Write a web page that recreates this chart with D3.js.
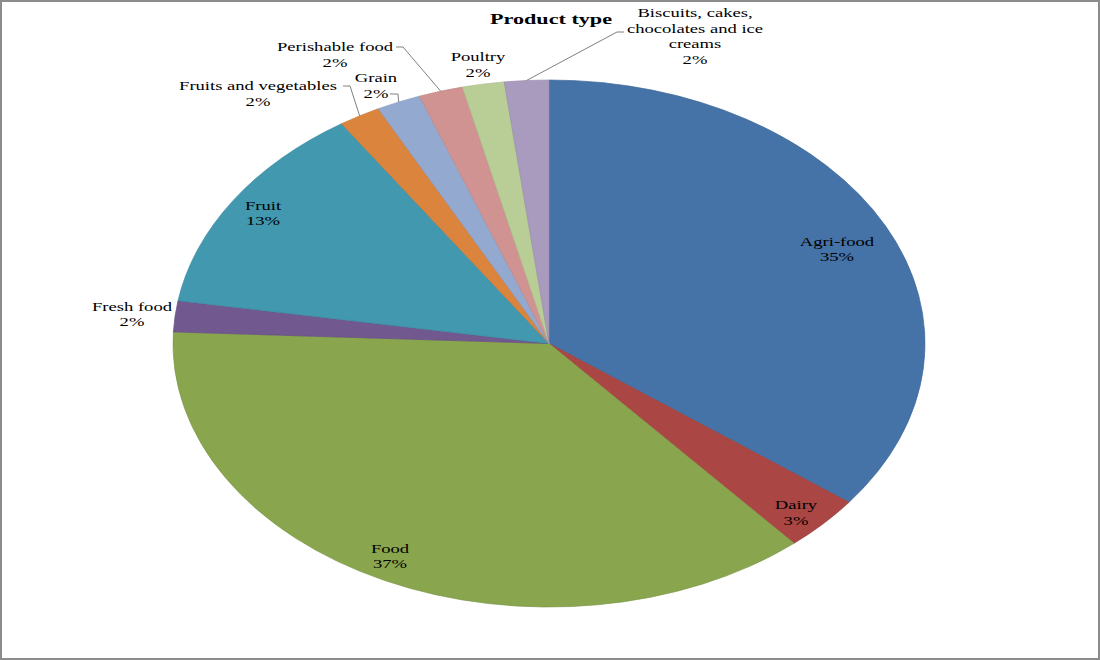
<!DOCTYPE html>
<html>
<head>
<meta charset="utf-8">
<script src="https://cdn.jsdelivr.net/npm/d3@7"></script>
<style>
  body { margin: 0; background: #fff; }
  svg { display: block; }
</style>
</head>
<body>
<svg id="chart"></svg>
<script>
// data (percent of total), clockwise from 12 o'clock
var categories = ["Agri-food", "Dairy", "Food", "Fresh food", "Fruit",
  "Fruits and vegetables", "Grain", "Perishable food", "Poultry",
  "Biscuits, cakes, chocolates and ice creams"];
var shares = [35.3, 3.4, 37.0, 1.9, 13.1, 1.8, 1.9, 1.9, 1.8, 1.9];
var colors = ["#4572a7", "#aa4643", "#89a54e", "#71588f", "#4198af",
  "#db843d", "#93a9cf", "#d19392", "#b9cd96", "#a99bbd"];
// wrapped label lines for each category
var labelLines = [["Agri-food"], ["Dairy"], ["Food"], ["Fresh food"], ["Fruit"],
  ["Fruits and vegetables"], ["Grain"], ["Perishable food"], ["Poultry"],
  ["Biscuits, cakes,", "chocolates and ice", "creams"]];

var W = 1100, H = 660;
var cx = 549, cy = 343.5, rx = 376, ry = 263.5;
var stretch = 1.43; // the whole chart is wider than tall

// label block centres and leader-line elbows (layout only)
var labelLayout = {
  "Agri-food": { x: 837, y: 249 },
  "Dairy": { x: 796, y: 512.5 },
  "Food": { x: 390, y: 556 },
  "Fresh food": { x: 132, y: 314 },
  "Fruit": { x: 263, y: 213 },
  "Fruits and vegetables": { x: 258, y: 93.5, leader: [[343, 86], [350, 86]] },
  "Grain": { x: 376, y: 85.5, leader: [[390, 94], [398, 94]] },
  "Perishable food": { x: 335, y: 54.5, leader: [[396, 47], [403, 47]] },
  "Poultry": { x: 478, y: 64.5 },
  "Biscuits, cakes, chocolates and ice creams": { x: 695, y: 36, leader: [[624, 32], [617, 32]] }
};

var svg = d3.select("#chart").attr("width", W).attr("height", H);

// outer frame
svg.append("rect")
  .attr("x", 1).attr("y", 1)
  .attr("width", W - 2).attr("height", H - 2)
  .attr("fill", "#fff")
  .attr("stroke", "#8c8c8c")
  .attr("stroke-width", 2);

var pie = d3.pie().sort(null).value(function(d) { return d; });
var arcs = pie(shares);

var arc = d3.arc().innerRadius(0).outerRadius(ry);

// pie, stretched to an ellipse
var g = svg.append("g")
  .attr("transform", "translate(" + cx + "," + cy + ") scale(" + (rx / ry) + ",1)");

g.selectAll("path")
  .data(arcs)
  .enter().append("path")
  .attr("d", arc)
  .attr("fill", function(d, i) { return colors[i]; })
  .attr("stroke", function(d, i) { return d3.color(colors[i]).darker(0.25); })
  .attr("stroke-width", 0.7)
  .attr("vector-effect", "non-scaling-stroke");

// point on the ellipse at a given pie angle
function edgePt(a, f) {
  return [cx + rx * f * Math.sin(a), cy - ry * f * Math.cos(a)];
}

// leader lines
arcs.forEach(function(d, i) {
  var lay = labelLayout[categories[i]];
  if (!lay.leader) return;
  var p = edgePt((d.startAngle + d.endAngle) / 2, 1);
  var pts = lay.leader.concat([p]);
  svg.append("path")
    .attr("d", d3.line()(pts))
    .attr("fill", "none")
    .attr("stroke", "#808080")
    .attr("stroke-width", 1);
});

// data labels
var lineH = 15.5;
arcs.forEach(function(d, i) {
  var lay = labelLayout[categories[i]];
  var lines = labelLines[i].concat([Math.round(shares[i]) + "%"]);
  var y0 = -(lines.length - 1) * lineH / 2;
  var t = svg.append("text")
    .attr("transform", "translate(" + lay.x + "," + lay.y + ") scale(" + stretch + ",1)")
    .attr("text-anchor", "middle")
    .attr("font-family", "'Liberation Serif', 'Times New Roman', serif")
    .attr("font-size", "13px")
    .attr("fill", "#000");
  lines.forEach(function(s, k) {
    t.append("tspan")
      .attr("x", 0)
      .attr("y", y0 + k * lineH)
      .attr("dy", "0.35em")
      .text(s);
  });
});

// chart title
svg.append("text")
  .attr("transform", "translate(551,19) scale(" + stretch + ",1)")
  .attr("text-anchor", "middle")
  .attr("dy", "0.35em")
  .attr("font-family", "'Liberation Serif', 'Times New Roman', serif")
  .attr("font-weight", "bold")
  .attr("font-size", "15.5px")
  .text("Product type");
</script>
</body>
</html>
